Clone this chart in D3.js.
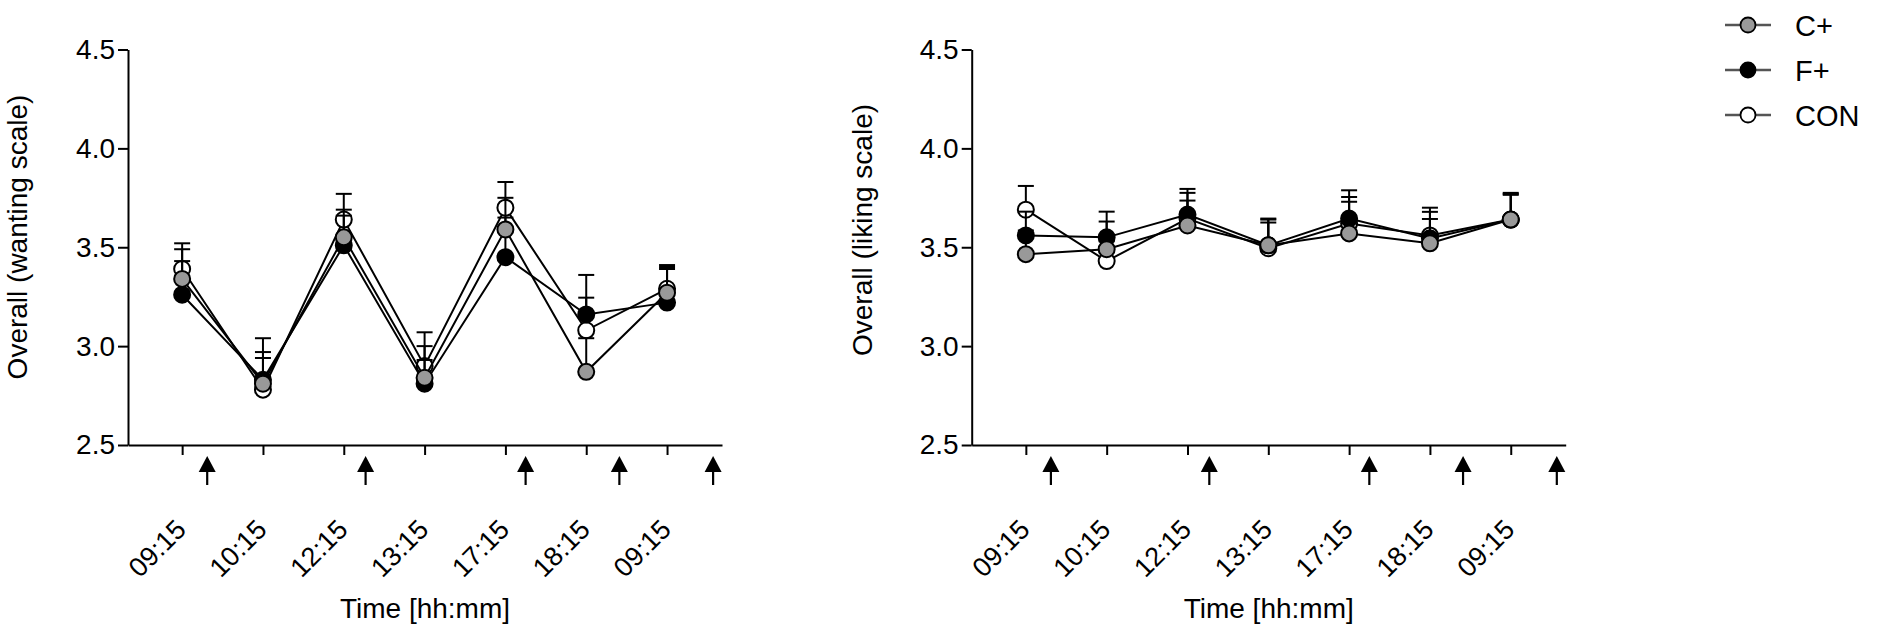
<!DOCTYPE html>
<html>
<head>
<meta charset="utf-8">
<script src="https://cdn.jsdelivr.net/npm/d3@7"></script>
<style>
  body { margin: 0; background: #fff; }
  svg text { font-family: "Liberation Sans", Arial, sans-serif; fill: #000; }
  .axis path, .axis line { stroke: #000; stroke-width: 2px; }
</style>
</head>
<body>
<div id="chart"></div>
<script>
// categories on the x axis (two days, so 09:15 shows twice)
var categories = ["09:15", "10:15", "12:15", "13:15", "17:15", "18:15", "09:15"];
var yTicks = [2.5, 3.0, 3.5, 4.0, 4.5];
// meal arrows, in category units
var arrowPositions = [0.31, 2.27, 4.25, 5.41, 6.57];
var groups = ["C+", "F+", "CON"];

// wanting scale: means and SEM
var wantingCplus = [3.34, 2.81, 3.55, 2.84, 3.59, 2.87, 3.27];
var wantingCplusSem = [0.15, 0.16, 0.14, 0.16, 0.16, 0.17, 0.12];
var wantingFplus = [3.26, 2.83, 3.51, 2.81, 3.45, 3.16, 3.22];
var wantingFplusSem = [0.17, 0.11, 0.15, 0.12, 0.20, 0.20, 0.18];
var wantingCon = [3.39, 2.78, 3.64, 2.90, 3.70, 3.08, 3.29];
var wantingConSem = [0.13, 0.26, 0.13, 0.17, 0.13, 0.165, 0.12];

// liking scale: means and SEM
var likingCplus = [3.465, 3.49, 3.61, 3.51, 3.57, 3.52, 3.64];
var likingCplusSem = [0.12, 0.14, 0.126, 0.135, 0.16, 0.123, 0.125];
var likingFplus = [3.56, 3.55, 3.665, 3.51, 3.645, 3.545, 3.64];
var likingFplusSem = [0.12, 0.13, 0.13, 0.13, 0.143, 0.134, 0.13];
var likingCon = [3.69, 3.43, 3.645, 3.495, 3.62, 3.56, 3.64];
var likingConSem = [0.12, 0.10, 0.13, 0.13, 0.134, 0.14, 0.135];

var fills = { "C+": "#999999", "F+": "#000000", "CON": "#ffffff" };

var svg = d3.select("#chart").append("svg")
  .attr("width", 1892)
  .attr("height", 629);

function drawPanel(left, yLabel, labelX, labelY, series) {
  var _width = 594;
  var x = d3.scaleLinear().domain([-0.67, 6.68]).range([0, _width]);
  var y = d3.scaleLinear().domain([2.5, 4.5]).range([445, 49.5]);

  var g = svg.append("g").attr("transform", "translate(" + left + ",0)");

  g.append("g")
    .attr("class", "axis")
    .call(d3.axisLeft(y).tickValues(yTicks).tickFormat(d3.format(".1f"))
      .tickSize(10).tickSizeOuter(0).tickPadding(3))
    .selectAll("text")
      .style("font-size", "28px");

  var xAxisG = g.append("g")
    .attr("class", "axis")
    .attr("transform", "translate(0,445)")
    .call(d3.axisBottom(x).tickValues(d3.range(categories.length))
      .tickFormat(function (i) { return categories[i]; })
      .tickSize(10).tickSizeOuter(0));
  xAxisG.selectAll("text")
    .attr("y", 0)
    .attr("dy", 0)
    .attr("text-anchor", "end")
    .attr("transform", "translate(5,86) rotate(-45)")
    .style("font-size", "27px");

  // arrows under the axis
  var arrows = g.selectAll("g.arrow")
    .data(arrowPositions)
    .enter().append("g")
      .attr("class", "arrow")
      .attr("transform", function (d) { return "translate(" + x(d) + ",0)"; });
  arrows.append("line")
    .attr("x1", 0).attr("x2", 0)
    .attr("y1", 470).attr("y2", 485)
    .attr("stroke", "#000").attr("stroke-width", 2.2);
  arrows.append("path")
    .attr("d", "M0,456L8.5,472L-8.5,472Z")
    .attr("fill", "#000");

  // axis titles
  g.append("text")
    .attr("x", _width / 2)
    .attr("y", 618)
    .attr("text-anchor", "middle")
    .style("font-size", "28px")
    .text("Time [hh:mm]");

  svg.append("text")
    .attr("transform", "translate(" + labelX + "," + labelY + ") rotate(-90)")
    .attr("text-anchor", "middle")
    .style("font-size", "28px")
    .text(yLabel);

  var line = d3.line()
    .x(function (d, i) { return x(i); })
    .y(function (d) { return y(d); });

  // CON first, then F+, then C+ on top
  series.forEach(function (s) {
    var sg = g.append("g");
    sg.append("path")
      .datum(s.mean)
      .attr("d", line)
      .attr("fill", "none")
      .attr("stroke", "#000")
      .attr("stroke-width", 2);

    var bars = sg.selectAll("g.err")
      .data(s.mean)
      .enter().append("g")
        .attr("class", "err");
    bars.append("line")
      .attr("x1", function (d, i) { return x(i); })
      .attr("x2", function (d, i) { return x(i); })
      .attr("y1", function (d) { return y(d); })
      .attr("y2", function (d, i) { return y(d + s.sem[i]); })
      .attr("stroke", "#000").attr("stroke-width", 2);
    bars.append("line")
      .attr("x1", function (d, i) { return x(i) - 8; })
      .attr("x2", function (d, i) { return x(i) + 8; })
      .attr("y1", function (d, i) { return y(d + s.sem[i]); })
      .attr("y2", function (d, i) { return y(d + s.sem[i]); })
      .attr("stroke", "#000").attr("stroke-width", 2);

    sg.selectAll("circle")
      .data(s.mean)
      .enter().append("circle")
        .attr("cx", function (d, i) { return x(i); })
        .attr("cy", function (d) { return y(d); })
        .attr("r", 8)
        .attr("fill", fills[s.name])
        .attr("stroke", "#000")
        .attr("stroke-width", 2);
  });
}

drawPanel(128, "Overall (wanting scale)", 27, 237, [
  { name: "CON", mean: wantingCon, sem: wantingConSem },
  { name: "F+", mean: wantingFplus, sem: wantingFplusSem },
  { name: "C+", mean: wantingCplus, sem: wantingCplusSem }
]);

drawPanel(971.7, "Overall (liking scale)", 872, 230, [
  { name: "CON", mean: likingCon, sem: likingConSem },
  { name: "F+", mean: likingFplus, sem: likingFplusSem },
  { name: "C+", mean: likingCplus, sem: likingCplusSem }
]);

// legend
var legend = svg.selectAll("g.legend")
  .data(groups)
  .enter().append("g")
    .attr("class", "legend")
    .attr("transform", function (d, i) { return "translate(1748," + (25 + i * 45) + ")"; });
legend.append("line")
  .attr("x1", -23).attr("x2", 23)
  .attr("y1", 0).attr("y2", 0)
  .attr("stroke", "#555").attr("stroke-width", 2.5);
legend.append("circle")
  .attr("r", 7.5)
  .attr("fill", function (d) { return fills[d]; })
  .attr("stroke", "#000")
  .attr("stroke-width", 1.8);
legend.append("text")
  .attr("x", 47)
  .attr("y", 10.5)
  .style("font-size", "29px")
  .text(function (d) { return d; });
</script>
</body>
</html>
